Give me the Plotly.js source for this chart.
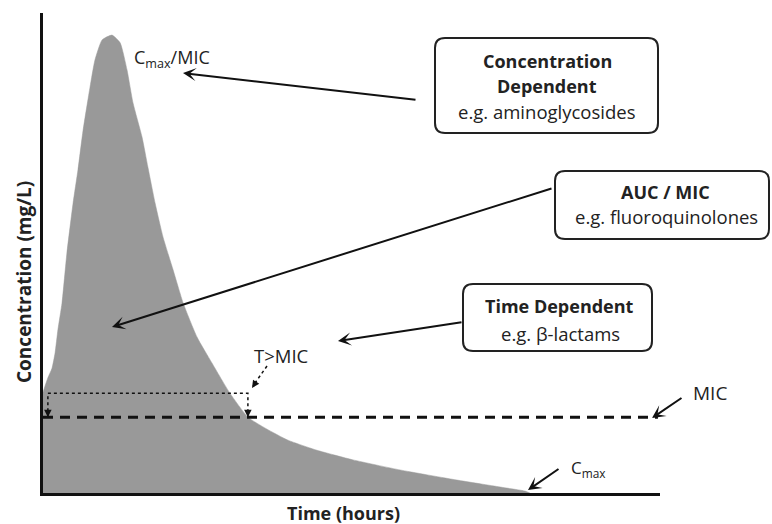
<!DOCTYPE html>
<html>
<head>
<meta charset="utf-8">
<script src="https://cdn.plot.ly/plotly-3.0.1.min.js"></script>
<style>
  html, body { margin: 0; padding: 0; background: #fff; }
  #plot { width: 772px; height: 524px; }
</style>
</head>
<body>
<div id="plot"></div>
<script>
// --------------------------------------------
// data
// --------------------------------------------

// concentration-time curve (hours, mg/L)
const timeH = [0, 0.08, 0.19, 0.35, 0.47, 0.58, 0.74, 0.93, 1.17, 1.36, 1.56, 1.83, 2.02,
    2.30, 2.68, 3.00, 3.27, 3.50, 3.85, 4.08, 4.36, 4.67, 5.06, 5.45, 5.99, 6.57,
    7.27, 7.97, 8.68, 9.53, 10.66, 12.06, 13.89, 16.10, 17.78, 18.75, 18.94];
const conc = [21.0, 22.3, 24.0, 26.0, 29.2, 34.0, 39.6, 50.0, 60.4, 67.3, 75.6, 84.6, 90.2,
    94.4, 95.4, 93.8, 88.1, 81.3, 74.2, 67.9, 60.4, 53.3, 46.5, 39.6, 32.5, 27.1,
    20.8, 15.8, 13.4, 11.0, 8.9, 6.9, 4.8, 2.7, 1.25, 0.4, 0];

// MIC level and the span where it is exceeded
const mic = 15.8;
const micLineEnd = 23.92;
const tAboveMic = [0.19, 7.97];
const bracketLevel = 20.8;

const fillGray = "#999999";
const ink = "#222222";
const font = "Open Sans, sans-serif";

// --------------------------------------------
// layout helpers (pixel -> paper)
// --------------------------------------------

const W = 772, H = 524;
const M = { l: 43, r: 112, t: 13, b: 31 };
const pw = W - M.l - M.r;
const ph = H - M.t - M.b;
const px = x => (x - M.l) / pw;
const py = y => (H - M.b - y) / ph;

function label(text, x, y, size, bold, extra) {
    return Object.assign({
        xref: "paper", yref: "paper",
        x: px(x), y: py(y),
        xanchor: "center", yanchor: "middle",
        text: bold ? "<b>" + text + "</b>" : text,
        showarrow: false,
        font: { family: font, size: size, color: ink }
    }, extra || {});
}

function arrow(head, tail, opts) {
    return Object.assign({
        xref: "paper", yref: "paper",
        x: px(head[0]), y: py(head[1]),
        ax: tail[0] - head[0], ay: tail[1] - head[1],
        text: "",
        showarrow: true,
        arrowhead: 3,
        arrowsize: 1.1,
        arrowwidth: 2,
        arrowcolor: "#111",
        standoff: 0, startstandoff: 0
    }, opts || {});
}

function roundBox(x0, y0, x1, y1, r) {
    const p = (x, y) => px(x) + "," + py(y);
    const path =
        "M" + p(x0 + r, y0) +
        " L" + p(x1 - r, y0) +
        " Q" + p(x1, y0) + " " + p(x1, y0 + r) +
        " L" + p(x1, y1 - r) +
        " Q" + p(x1, y1) + " " + p(x1 - r, y1) +
        " L" + p(x0 + r, y1) +
        " Q" + p(x0, y1) + " " + p(x0, y1 - r) +
        " L" + p(x0, y0 + r) +
        " Q" + p(x0, y0) + " " + p(x0 + r, y0) + " Z";
    return {
        type: "path", xref: "paper", yref: "paper", path: path,
        line: { color: "#222", width: 2 },
        fillcolor: "rgba(255,255,255,0)"
    };
}

// --------------------------------------------
// traces
// --------------------------------------------

const traces = [
    {
        x: timeH, y: conc,
        type: "scatter", mode: "lines",
        fill: "tozeroy", fillcolor: fillGray,
        line: { color: fillGray, width: 0.5, shape: "spline", smoothing: 0.5 },
        hoverinfo: "skip"
    },
    {
        x: [0, micLineEnd], y: [mic, mic],
        type: "scatter", mode: "lines",
        line: { color: "#111", width: 3, dash: "10px,7px" },
        hoverinfo: "skip"
    },
    {
        x: [tAboveMic[0], tAboveMic[0], tAboveMic[1], tAboveMic[1]],
        y: [mic, bracketLevel, bracketLevel, mic],
        type: "scatter", mode: "lines",
        line: { color: "#111", width: 1.5, dash: "dot" },
        hoverinfo: "skip"
    }
];

// --------------------------------------------
// annotations
// --------------------------------------------

const annotations = [
    label("C<sub>max</sub>/MIC", 172, 58, 18, false),

    label("Concentration", 547, 61, 18, true),
    label("Dependent", 547, 86, 18, true),
    label("e.g. aminoglycosides", 547, 111, 18.5, false),

    label("AUC / MIC", 665, 192, 18, true),
    label("e.g. fluoroquinolones", 667, 216, 18.5, false),

    label("Time Dependent", 559, 306, 18, true),
    label("e.g. β-lactams", 560, 333, 18.5, false),

    label("T>MIC", 281, 355, 18.5, false),
    label("MIC", 710, 393, 19, false),
    label("C<sub>max</sub>", 588, 468, 17, false),

    label("Time (hours)", 343, 513, 18, true),
    label("Concentration (mg/L)", 24, 282, 19, true, { textangle: -90 }),

    arrow([183, 73], [417, 100]),
    arrow([112, 327], [553, 188]),
    arrow([338, 341], [463, 322]),
    arrow([652, 418], [683, 397]),
    arrow([528, 490], [560, 468]),
    arrow([252, 388], [256, 382], { arrowhead: 2, arrowsize: 1, arrowwidth: 1.5 }),

    // heads of the dotted T>MIC bracket
    {
        xref: "x", yref: "y", x: tAboveMic[0], y: mic, ax: 0, ay: -8,
        text: "", showarrow: true,
        arrowhead: 2, arrowwidth: 1.5, arrowcolor: "#111", standoff: 0
    },
    {
        xref: "x", yref: "y", x: tAboveMic[1], y: mic, ax: 0, ay: -8,
        text: "", showarrow: true,
        arrowhead: 2, arrowwidth: 1.5, arrowcolor: "#111", standoff: 0
    }
];

const shapes = [
    roundBox(435, 38, 658, 133, 10),
    roundBox(555, 171, 769, 239, 10),
    roundBox(463, 284, 652, 351, 10),
    {
        type: "line", xref: "paper", yref: "paper",
        x0: px(267), y0: py(366), x1: px(255), y1: py(383),
        line: { color: "#111", width: 1.5, dash: "dot" }
    }
];

const layout = {
    width: W, height: H,
    margin: M,
    paper_bgcolor: "#fff",
    plot_bgcolor: "#fff",
    showlegend: false,
    xaxis: {
        range: [0, 24],
        showline: true, linewidth: 3, linecolor: "#111",
        showgrid: false, zeroline: false,
        showticklabels: false, ticks: ""
    },
    yaxis: {
        range: [0, 100],
        showline: true, linewidth: 3, linecolor: "#111",
        showgrid: false, zeroline: false,
        showticklabels: false, ticks: ""
    },
    annotations: annotations,
    shapes: shapes
};

Plotly.newPlot("plot", traces, layout, { displayModeBar: false, staticPlot: true });
</script>
</body>
</html>
